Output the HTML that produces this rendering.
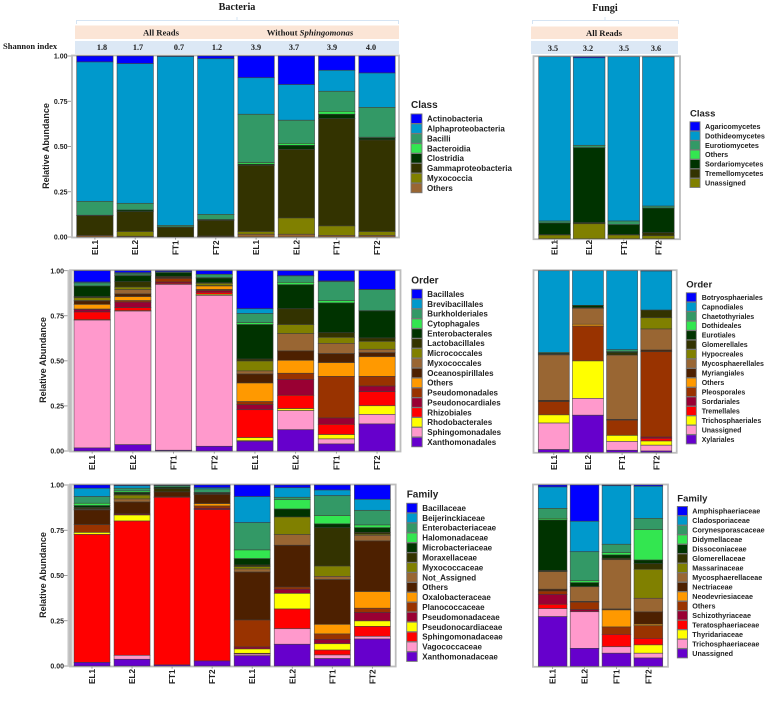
<!DOCTYPE html>
<html lang="en">
<head>
<meta charset="utf-8">
<title>Bacteria and fungi relative abundance</title>
<style>
html,body{margin:0;padding:0;background:#fff;}
svg{display:block;filter:blur(0.35px);}
.serif{font-family:"Liberation Serif",serif;font-weight:bold;fill:#1a1a1a;}
.sans{font-family:"Liberation Sans",sans-serif;font-weight:bold;fill:#222;}
</style>
</head>
<body>
<svg id="figure" xmlns="http://www.w3.org/2000/svg" width="774" height="701" viewBox="0 0 774 701">
  <rect x="0" y="0" width="774" height="701" fill="#fff"/>
  <text class="serif" x="237" y="10" font-size="10.2" text-anchor="middle">Bacteria</text>
  <text class="serif" x="605" y="11" font-size="10.2" text-anchor="middle">Fungi</text>
  <path d="M76.5 24V20.5H398.5V24M237 20.5V17" fill="none" stroke="#d5e4f3" stroke-width="1"/>
  <path d="M532.5 24V20.5H678.5V24M605 20.5V17" fill="none" stroke="#d5e4f3" stroke-width="1"/>
  <rect x="75" y="25.5" width="324" height="13.5" fill="#fbe5d6"/>
  <rect x="531" y="26.5" width="147" height="12.5" fill="#fbe5d6"/>
  <rect x="75" y="41" width="324" height="13" fill="#dce8f5"/>
  <rect x="531" y="41" width="147" height="13" fill="#dce8f5"/>
  <text class="serif" x="161" y="35.5" font-size="8.7" text-anchor="middle">All Reads</text>
  <text class="serif" x="310" y="35.5" font-size="8.7" text-anchor="middle">Without <tspan font-style="italic">Sphingomonas</tspan></text>
  <text class="serif" x="604" y="36" font-size="8.7" text-anchor="middle">All Reads</text>
  <text class="serif" x="3" y="49" font-size="8.5">Shannon index</text>
  <g id="shannon"></g>
  <g id="charts"></g>
</svg>
<script>
// ---------- Data ----------
const bacteriaSamples = ['EL1','EL2','FT1','FT2','EL1','EL2','FT1','FT2'];
const fungiSamples = ['EL1','EL2','FT1','FT2'];
const yTickValues = [0, 0.25, 0.5, 0.75, 1];
const yTickLabels = ['0.00','0.25','0.50','0.75','1.00'];
const bacteriaShannon = ['1.8','1.7','0.7','1.2','3.9','3.7','3.9','4.0'];
const fungiShannon = ['3.5','3.2','3.5','3.6'];

const bacteriaClassTaxa = ['Actinobacteria','Alphaproteobacteria','Bacilli','Bacteroidia','Clostridia','Gammaproteobacteria','Myxococcia','Others'];
const bacteriaClassValues = [
  [.033,.77,.077,0,.002,.11,0,.008],
  [.042,.772,.037,0,.009,.11,.026,.004],
  [.003,.933,.009,0,.001,.054,0,0],
  [.015,.86,.029,0,.004,.087,.002,.003],
  [.12,.202,.267,.009,.006,.366,.015,.015],
  [.158,.197,.128,.011,.022,.379,.09,.015],
  [.079,.116,.111,.016,.024,.593,.052,.009],
  [.094,.19,.165,.004,.011,.506,.021,.009]
];

const fungiClassTaxa = ['Agaricomycetes','Dothideomycetes','Eurotiomycetes','Others','Sordariomycetes','Tremellomycetes','Unassigned'];
const fungiClassValues = [
  [0,.903,.011,0,.064,.002,.02],
  [.006,.481,.013,0,.412,.006,.082],
  [0,.903,.02,0,.055,.002,.02],
  [.001,.82,.011,0,.135,.017,.016]
];

const bacteriaOrderTaxa = ['Bacillales','Brevibacillales','Burkholderiales','Cytophagales','Enterobacterales','Lactobacillales','Micrococcales','Myxococcales','Oceanospirillales','Others','Pseudomonadales','Pseudonocardiales','Rhizobiales','Rhodobacterales','Sphingomonadales','Xanthomonadales'];
const bacteriaOrderValues = [
  [.063,.005,.017,0,.059,.006,.016,.002,.019,.026,.002,.014,.043,.002,.709,.017],
  [.011,.004,.009,.004,.033,.03,.014,.024,.015,.022,.008,.031,.017,.002,.741,.035],
  [.006,0,.005,0,.02,.006,0,0,.006,0,.02,.007,.006,0,.92,.004],
  [.02,0,.019,.002,.026,.003,.013,0,.002,.019,.007,.009,.011,.006,.837,.026],
  [.211,.027,.05,.011,.191,.011,.055,.017,.05,.103,.017,.028,.155,.017,.003,.054],
  [.028,.001,.036,.013,.133,.088,.05,.096,.052,.072,.034,.088,.074,.011,.106,.118],
  [.057,.004,.105,.013,.165,.026,.033,.057,.05,.076,.231,.035,.057,.024,.028,.039],
  [.104,.001,.117,.001,.15,.019,.044,.019,.022,.109,.054,.031,.078,.048,.053,.15]
];

const fungiOrderTaxa = ['Botryosphaeriales','Capnodiales','Chaetothyriales','Dothideales','Eurotiales','Glomerellales','Hypocreales','Mycosphaerellales','Myriangiales','Others','Pleosporales','Sordariales','Tremellales','Trichosphaeriales','Unassigned','Xylariales'];
const fungiOrderValues = [
  [0,.45,.005,0,.005,.004,0,.25,.007,0,.073,0,0,.045,.146,.015],
  [0,.191,0,0,.013,.003,0,.088,0,.01,.192,0,0,.206,.093,.204],
  [0,.435,.011,0,.006,.013,0,.354,.004,0,.084,0,0,.033,.049,.011],
  [.002,.215,0,0,0,.042,.062,.116,.009,0,.47,.007,.015,.023,.032,.007]
];

const bacteriaFamilyTaxa = ['Bacillaceae','Beijerinckiaceae','Enterobacteriaceae','Halomonadaceae','Microbacteriaceae','Moraxellaceae','Myxococcaceae','Not_Assigned','Others','Oxalobacteraceae','Planococcaceae','Pseudomonadaceae','Pseudonocardiaceae','Sphingomonadaceae','Vagococcaceae','Xanthomonadaceae'];
const bacteriaFamilyValues = [
  [.018,.046,.037,.013,.011,.007,.003,.003,.081,0,.043,0,.011,.707,0,.02],
  [.004,.014,.015,.008,.009,.006,.021,.017,.066,0,0,.006,.033,.742,.022,.037],
  [.002,.002,.008,0,.008,.018,0,0,.028,0,0,.002,0,.926,0,.006],
  [.015,.007,.019,.002,.005,.002,0,.002,.051,.013,.013,.007,0,.836,0,.028],
  [.064,.144,.151,.048,.035,.009,.013,.017,.265,0,.149,.011,.024,.004,.009,.057],
  [.015,.053,.013,.052,.044,0,.097,.059,.231,0,.012,.023,.086,.109,.086,.12],
  [.028,.031,.11,.046,.021,.212,.057,.018,.247,.053,.03,.024,.035,.027,.02,.041],
  [.079,.061,.081,.015,.026,.01,.006,.031,.28,.092,.023,.047,.03,.055,.015,.149]
];

const fungiFamilyTaxa = ['Amphisphaeriaceae','Cladosporiaceae','Corynesporascaceae','Didymellaceae','Dissoconiaceae','Glomerellaceae','Massarinaceae','Mycosphaerellaceae','Nectriaceae','Neodevriesiaceae','Others','Schizothyriaceae','Teratosphaeriaceae','Thyridariaceae','Trichosphaeriaceae','Unassigned'];
const fungiFamilyValues = [
  [.011,.118,.055,.009,.279,.006,0,.097,.01,0,.018,.055,.024,0,.044,.274],
  [.2,.168,.16,.011,.022,0,0,.081,.004,0,.041,.012,0,0,.202,.099],
  [.004,.323,.046,.013,.018,.008,0,.272,.005,.094,.041,0,.068,0,.036,.072],
  [.007,.177,.062,.168,.02,.031,.16,.075,.068,.008,.07,0,.036,.046,.026,.046]
];

// ---------- Styling and layout ----------
const palette = ['#0000ff','#0099cc','#339966','#33e650','#003300','#333300','#808000','#996633','#4d2000','#ff9900','#993300','#990033','#ff0000','#ffff00','#ff99cc','#6600cc'];
// The bacterial family legend swaps red and yellow relative to the other charts.
const familyPalette = ['#0000ff','#0099cc','#339966','#33e650','#003300','#333300','#808000','#996633','#4d2000','#ff9900','#993300','#990033','#ffff00','#ff0000','#ff99cc','#6600cc'];
const NS = 'http://www.w3.org/2000/svg';

function mk(parent, tag, attrs, text) {
  const el = document.createElementNS(NS, tag);
  for (const k in attrs) el.setAttribute(k, attrs[k]);
  if (text !== undefined) el.textContent = text;
  parent.appendChild(el);
  return el;
}

const charts = [
  { id:'bacteria-class', title:'Class', samples:bacteriaSamples, taxa:bacteriaClassTaxa, values:bacteriaClassValues, colors:palette,
    top:56, bottom:237, barLeft:76.7, step:40.3, barW:36.4, frameL:72, frameR:399, band:[71,73],
    yTicks:true, titleX:46, titleY:146, xLabelY:255,
    leg:{titleX:411,titleY:108,keyX:411,keyW:11,rowY:118.7,rowStep:9.9,labelX:427,font:8,titleFont:10} },
  { id:'fungi-class', title:'Class', samples:fungiSamples, taxa:fungiClassTaxa, values:fungiClassValues, colors:palette,
    top:56.7, bottom:238.7, barLeft:538.7, step:34.6, barW:31.7, frameL:533.5, frameR:680,
    yTicks:false, xLabelY:255,
    leg:{titleX:690,titleY:116.5,keyX:690,keyW:10,rowY:126.3,rowStep:9.44,labelX:705,font:7.2,titleFont:9.5} },
  { id:'bacteria-order', title:'Order', samples:bacteriaSamples, taxa:bacteriaOrderTaxa, values:bacteriaOrderValues, colors:palette,
    top:270.7, bottom:451, barLeft:74, step:40.7, barW:36.3, frameL:70, frameR:400.5, band:[67.5,72.5],
    yTicks:true, titleX:43, titleY:360, xLabelY:470,
    leg:{titleX:411.3,titleY:283.5,keyX:411.7,keyW:10.5,rowY:294,rowStep:9.87,labelX:427.3,font:8,titleFont:10} },
  { id:'fungi-order', title:'Order', samples:fungiSamples, taxa:fungiOrderTaxa, values:fungiOrderValues, colors:palette,
    top:270.7, bottom:452.3, barLeft:538.3, step:34.15, barW:31, frameL:533.5, frameR:676.7,
    yTicks:false, xLabelY:470,
    leg:{titleX:686.3,titleY:287.5,keyX:686.3,keyW:10,rowY:297.3,rowStep:9.47,labelX:701.7,font:7,titleFont:9.5} },
  { id:'bacteria-family', title:'Family', samples:bacteriaSamples, taxa:bacteriaFamilyTaxa, values:bacteriaFamilyValues, colors:familyPalette,
    top:485, bottom:666, barLeft:74, step:40.05, barW:36, frameL:70, frameR:395.7, band:[67.5,72.5],
    yTicks:true, titleX:43, titleY:575, xLabelY:684,
    leg:{titleX:406.7,titleY:497.5,keyX:406.7,keyW:10.5,rowY:508,rowStep:9.91,labelX:422.3,font:8,titleFont:10} },
  { id:'fungi-family', title:'Family', samples:fungiSamples, taxa:fungiFamilyTaxa, values:fungiFamilyValues, colors:palette,
    top:485, bottom:666.3, barLeft:538.3, step:31.9, barW:28.7, frameL:533, frameR:668,
    yTicks:false, xLabelY:684,
    leg:{titleX:677.3,titleY:501.5,keyX:677.3,keyW:10.2,rowY:511,rowStep:9.49,labelX:692.3,font:7.2,titleFont:9.5} }
];

function drawChart(c) {
  const root = document.getElementById('charts');
  const g = mk(root, 'g', {});
  
  

  const y = v => c.bottom - v * (c.bottom - c.top);
  const x = i => c.barLeft + i * c.step;

  if (c.band) {
    const band = mk(g, 'rect', { x:c.band[0], y:c.top-0.8, width:c.band[1]-c.band[0], height:c.bottom-c.top+1.6, fill:'#c6c6c6' });
    
    
  }
  const frame = mk(g, 'rect', { x:c.frameL, y:c.top-0.5, width:c.frameR-c.frameL, height:c.bottom-c.top+1, fill:'none', stroke:'#bdbdbd', 'stroke-width':1.8 });
  
  

  c.values.forEach((row, i) => {
    let remaining = 1;
    const col = mk(g, 'g', {});
    
    
    row.forEach((v, t) => {
      if (v <= 0) return;
      const yTop = y(remaining);
      const yBot = y(remaining - v);
      remaining -= v;
      const r = mk(col, 'rect', { x:x(i), y:yTop, width:c.barW, height:yBot-yTop, fill:c.colors[t], stroke:'#3c3c3c', 'stroke-opacity':0.75, 'stroke-width':0.7 });
      
      
    });
    const cx = x(i) + c.barW / 2;
    const tick = mk(g, 'line', { x1:cx, x2:cx, y1:c.bottom+0.8, y2:c.bottom+2.6, stroke:'#888', 'stroke-width':0.8 });
    
    
    const lbl = mk(g, 'text', { class:'sans', 'font-size':8.2, 'text-anchor':'start', transform:'translate(' + (cx+3) + ',' + c.xLabelY + ') rotate(-90)' }, c.samples[i]);
    
    
  });

  if (c.yTicks) {
    yTickValues.forEach((v, i) => {
      const tick = mk(g, 'line', { x1:c.band[0]-3.5, x2:c.band[0], y1:y(v), y2:y(v), stroke:'#888', 'stroke-width':0.8 });
      
      
      const lbl = mk(g, 'text', { class:'sans', x:c.band[0]-3.5, y:y(v)+2.6, 'font-size':7, 'text-anchor':'end' }, yTickLabels[i]);
      
      
    });
    const yt = mk(g, 'text', { class:'sans', 'font-size':9, 'text-anchor':'middle', transform:'translate(' + (c.titleX+3) + ',' + c.titleY + ') rotate(-90)' }, 'Relative Abundance');
    
    
  }

  const L = c.leg;
  const lg = mk(g, 'g', {});
  
  
  const lt = mk(lg, 'text', { class:'sans', x:L.titleX, y:L.titleY, 'font-size':L.titleFont }, c.title);
  
  
  c.taxa.forEach((name, t) => {
    const cy = L.rowY + t * L.rowStep;
    const key = mk(lg, 'rect', { x:L.keyX, y:cy-L.rowStep/2+0.2, width:L.keyW, height:L.rowStep-0.4, fill:c.colors[t], stroke:'#777', 'stroke-width':0.9 });
    
    
    const lbl = mk(lg, 'text', { class:'sans', x:L.labelX, y:cy+L.font*0.36, 'font-size':L.font }, name);
    
    
  });
}

charts.forEach(drawChart);

// Shannon index labels sit over each stack
const shannonG = document.getElementById('shannon');
const shannonCenters = [102,138,179,217,256,294,332,371];
bacteriaShannon.forEach((s, i) => {
  const t = mk(shannonG, 'text', { class:'serif', x:shannonCenters[i], y:50, 'font-size':8.2, 'text-anchor':'middle' }, s);
  
  
});
const fungiShannonCenters = [553,588,624,656];
fungiShannon.forEach((s, i) => {
  const t = mk(shannonG, 'text', { class:'serif', x:fungiShannonCenters[i], y:51, 'font-size':8.2, 'text-anchor':'middle' }, s);
  
  
});
</script>
</body>
</html>
